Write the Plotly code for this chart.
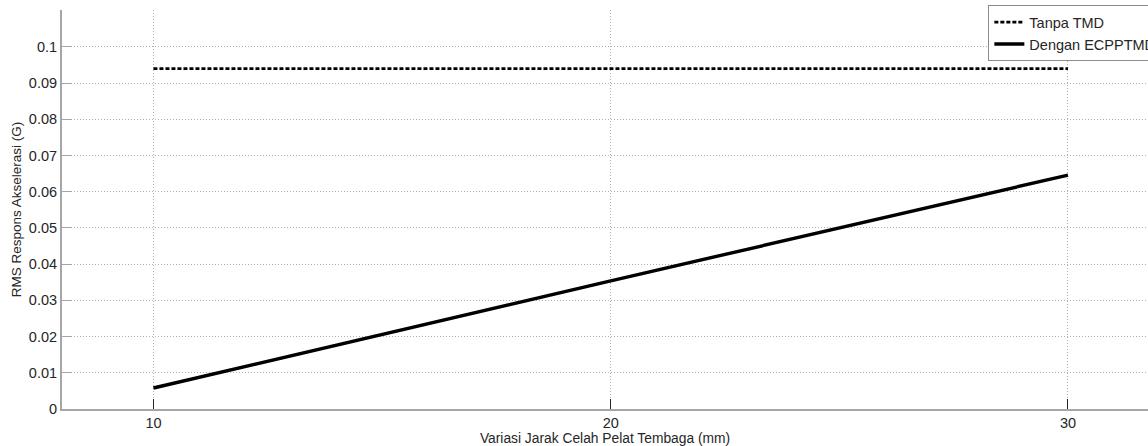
import plotly.graph_objects as go

gap_mm = [10, 20, 30]
tanpa_tmd = [0.094, 0.094, 0.094]
dengan_ecpptmd = [0.0058, 0.0354, 0.0646]
x_ticks = [10, 20, 30]
y_ticks = [0, 0.01, 0.02, 0.03, 0.04, 0.05, 0.06, 0.07, 0.08, 0.09, 0.1]
y_tick_text = ["0", "0.01", "0.02", "0.03", "0.04", "0.05", "0.06", "0.07", "0.08", "0.09", "0.1"]

FONT = "Liberation Sans, Arial, sans-serif"

fig = go.Figure()
fig.add_trace(go.Scatter(x=gap_mm, y=tanpa_tmd, mode="lines", name="Tanpa TMD",
                         line=dict(color="black", width=2.8, dash="4px,2px")))
fig.add_trace(go.Scatter(x=gap_mm, y=dengan_ecpptmd, mode="lines", name="Dengan ECPPTMD",
                         line=dict(color="black", width=3.4)))

fig.update_layout(
    width=1148, height=446,
    margin=dict(l=62, r=0, t=10, b=37, autoexpand=False),
    paper_bgcolor="white", plot_bgcolor="white",
    font=dict(family=FONT, size=14.5, color="#262626"),
    showlegend=True,
    legend=dict(x=0.853, y=1.012, xanchor="left", yanchor="top",
                bgcolor="white", bordercolor="#8c8c8c", borderwidth=1,
                font=dict(size=14.5, color="#262626"),
                tracegroupgap=0, itemwidth=30),
)
fig.update_xaxes(
    range=[8, 31.75], tickvals=x_ticks, ticktext=[str(v) for v in x_ticks],
    showline=True, linecolor="#a6a6a6", linewidth=2,
    ticks="inside", ticklen=10, tickcolor="#262626", tickwidth=1,
    showgrid=True, gridcolor="#b0b0b0", gridwidth=1, griddash="1px,2px",
    zeroline=False, automargin=False,
    tickfont=dict(size=14.5, color="#262626"),
    title=dict(text="Variasi Jarak Celah Pelat Tembaga (mm)", font=dict(size=13.8, color="#262626"), standoff=0),
)
fig.update_yaxes(
    range=[0, 0.1102], tickvals=y_ticks, ticktext=y_tick_text,
    showline=True, linecolor="#a6a6a6", linewidth=2,
    ticks="inside", ticklen=10, tickcolor="#a6a6a6", tickwidth=1,
    showgrid=True, gridcolor="#b0b0b0", gridwidth=1, griddash="1px,2px",
    zeroline=False, automargin=False,
    tickfont=dict(size=14.5, color="#262626"),
    title=dict(text="RMS Respons Akselerasi (G)", font=dict(size=13.5, color="#262626"), standoff=4),
)

fig.write_html("out.html", config={"displayModeBar": False},
               post_script="document.body.style.margin='0';document.body.style.overflow='hidden';")
